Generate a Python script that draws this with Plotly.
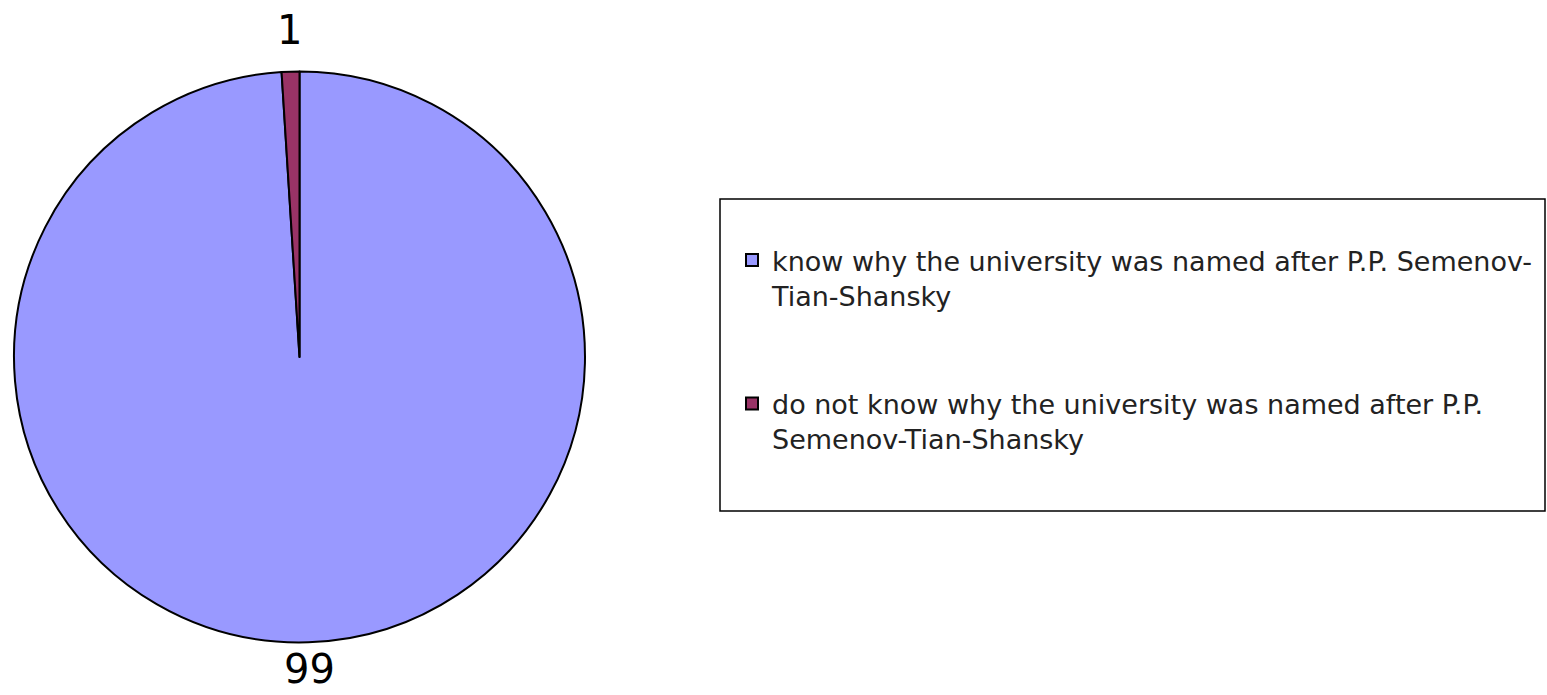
import math
import plotly.graph_objects as go

labels = [
    "know why the university was named after P.P. Semenov-<br>Tian-Shansky<br> <br> ",
    "do not know why the university was named after P.P.<br>Semenov-Tian-Shansky<br> <br> ",
]
values = [99, 1]
colors = ["#9999FF", "#993366"]

W, H = 1547, 695
# pie geometry in pixels
CX, CY, R = 299.5, 357.0, 285.5
LABEL_GAP = 42
LABEL_SIZE = 40
HALF_BOX = 26  # half the height of a label box, keeps labels inside the page

fig = go.Figure()
fig.add_trace(go.Pie(
    labels=labels,
    values=values,
    sort=False,
    direction="clockwise",
    rotation=0,
    marker=dict(colors=colors, line=dict(color="#000000", width=2)),
    textinfo="none",
    textposition="none",
    domain=dict(x=[(CX - R) / W, (CX + R) / W], y=[1 - (CY + R) / H, 1 - (CY - R) / H]),
    hoverinfo="label+value",
))

# value labels outside each slice, placed along the slice's mid-angle
total = sum(values)
start = 0.0
for v in values:
    mid = (start + v / 2) / total * 2 * math.pi
    start += v
    px = CX + (R + LABEL_GAP) * math.sin(mid)
    py = CY - (R + LABEL_GAP) * math.cos(mid)
    py = min(max(py, HALF_BOX), H - HALF_BOX)
    fig.add_annotation(
        x=px / W, y=1 - py / H, xref="paper", yref="paper",
        text=str(v), showarrow=False, xanchor="center", yanchor="middle",
        font=dict(family="DejaVu Sans", size=LABEL_SIZE, color="#000000"),
    )

fig.add_shape(
    type="rect", xref="paper", yref="paper",
    x0=720 / W, x1=1545 / W, y0=1 - 511 / H, y1=1 - 199 / H,
    line=dict(color="#000000", width=1.5), fillcolor="rgba(0,0,0,0)",
)

fig.update_layout(
    width=W, height=H,
    margin=dict(l=0, r=0, t=0, b=0),
    paper_bgcolor="white",
    plot_bgcolor="white",
    showlegend=True,
    legend=dict(
        x=732 / W, y=1 - 236 / H, xanchor="left", yanchor="top",
        font=dict(family="DejaVu Sans", size=27, color="#222222"),
        bgcolor="rgba(0,0,0,0)", borderwidth=0, valign="top",
        traceorder="normal",
    ),
)

fig.write_html("out.html")
